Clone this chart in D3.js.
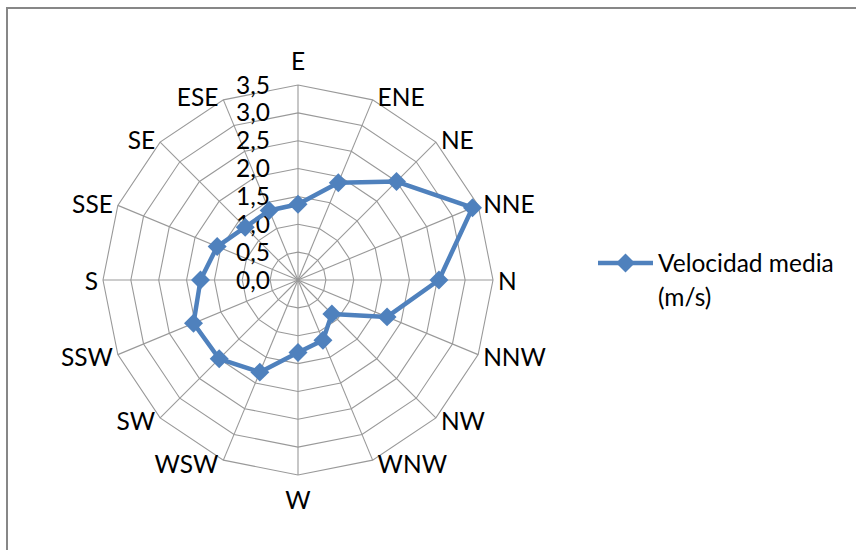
<!DOCTYPE html>
<html>
<head>
<meta charset="utf-8">
<script src="https://cdn.jsdelivr.net/npm/d3@7"></script>
<style>
html,body{margin:0;padding:0;background:#fff;}
svg{display:block;}
text{font-family:Lato,"Open Sans",sans-serif;fill:#000;}
</style>
</head>
<body>
<script>
const categories = ["E","ENE","NE","NNE","N","NNW","NW","WNW","W","WSW","SW","SSW","S","SSE","SE","ESE"];
const values = [1.36,1.89,2.50,3.39,2.53,1.73,0.86,1.17,1.30,1.79,2.00,2.03,1.75,1.57,1.34,1.35];
const tickValues = [0,0.5,1.0,1.5,2.0,2.5,3.0,3.5];
const tickLabels = ["0,0","0,5","1,0","1,5","2,0","2,5","3,0","3,5"];
const seriesName = ["Velocidad media","(m/s)"];

const W = 856, H = 550;
const cx = 298, cy = 280, R = 195;
const fontSize = 24.5;
const blue = "#4F81BD";
const gridColor = "#999";

const svg = d3.select("body").append("svg").attr("width", W).attr("height", H);

// chart border (top and left visible)
svg.append("path").attr("d", `M7,550 L7,8 L856,8`).attr("fill","none")
  .attr("stroke","#878787").attr("stroke-width",2);

const r = d3.scaleLinear().domain([0,3.5]).range([0,R]);
const ang = d3.scaleLinear().domain([0,categories.length]).range([0,2*Math.PI]);

const g = svg.append("g").attr("transform",`translate(${cx},${cy})`);

// rings
const ringLine = d3.lineRadial().angle((d,i)=>ang(i)).radius(d=>r(d)).curve(d3.curveLinearClosed);
g.selectAll("path.ring").data(tickValues.slice(1)).join("path")
  .attr("class","ring")
  .attr("d", v => ringLine(categories.map(()=>v)))
  .attr("fill","none").attr("stroke",gridColor).attr("stroke-width",1.1);

// spokes
g.selectAll("line.spoke").data(categories).join("line")
  .attr("class","spoke")
  .attr("x1",0).attr("y1",0)
  .attr("x2",(d,i)=>r(3.5)*Math.sin(ang(i)))
  .attr("y2",(d,i)=>-r(3.5)*Math.cos(ang(i)))
  .attr("stroke",gridColor).attr("stroke-width",1.1);

// tick labels
g.selectAll("text.tick").data(tickValues).join("text")
  .attr("class","tick")
  .attr("x",-28).attr("y",d=>-r(d))
  .attr("dy","0.35em")
  .attr("text-anchor","end")
  .style("font-size",fontSize+"px")
  .text((d,i)=>tickLabels[i]);

// category labels
g.selectAll("text.cat").data(categories).join("text")
  .attr("class","cat")
  .each(function(d,i){
    const a = ang(i), s = Math.sin(a), c = Math.cos(a);
    const el = d3.select(this);
    const vx = r(3.5)*s, vy = -r(3.5)*c;
    if (Math.abs(s) < 0.01) {
      el.attr("x", vx).attr("y", vy - (c>0 ? 24 : -25)).attr("text-anchor","middle");
    } else {
      el.attr("x", vx + (s>0 ? 5 : -5)).attr("y", vy - 4*c + 1)
        .attr("text-anchor", s>0 ? "start" : "end");
    }
    el.attr("dy","0.35em");
  })
  .style("font-size",fontSize+"px")
  .text(d=>d);

// series line
g.append("path")
  .attr("d", ringLine(values))
  .attr("fill","none").attr("stroke",blue).attr("stroke-width",4.5)
  .attr("stroke-linejoin","round");

// markers
const diamond = d3.symbol().type(d3.symbolSquare).size(180);
g.selectAll("path.mk").data(values).join("path")
  .attr("class","mk")
  .attr("d", diamond)
  .attr("transform",(d,i)=>`translate(${r(d)*Math.sin(ang(i))},${-r(d)*Math.cos(ang(i))}) rotate(45)`)
  .attr("fill",blue);

// legend
const lg = svg.append("g").attr("transform","translate(598,263)");
lg.append("line").attr("x1",0).attr("x2",55).attr("y1",0).attr("y2",0)
  .attr("stroke",blue).attr("stroke-width",4.5);
lg.append("path").attr("d",diamond).attr("transform","translate(27.5,0) rotate(45)").attr("fill",blue);
lg.selectAll("text").data(seriesName).join("text")
  .attr("x",60).attr("y",(d,i)=>i*34).attr("dy","0.35em")
  .style("font-size",fontSize+"px")
  .text(d=>d);
</script>
</body>
</html>
